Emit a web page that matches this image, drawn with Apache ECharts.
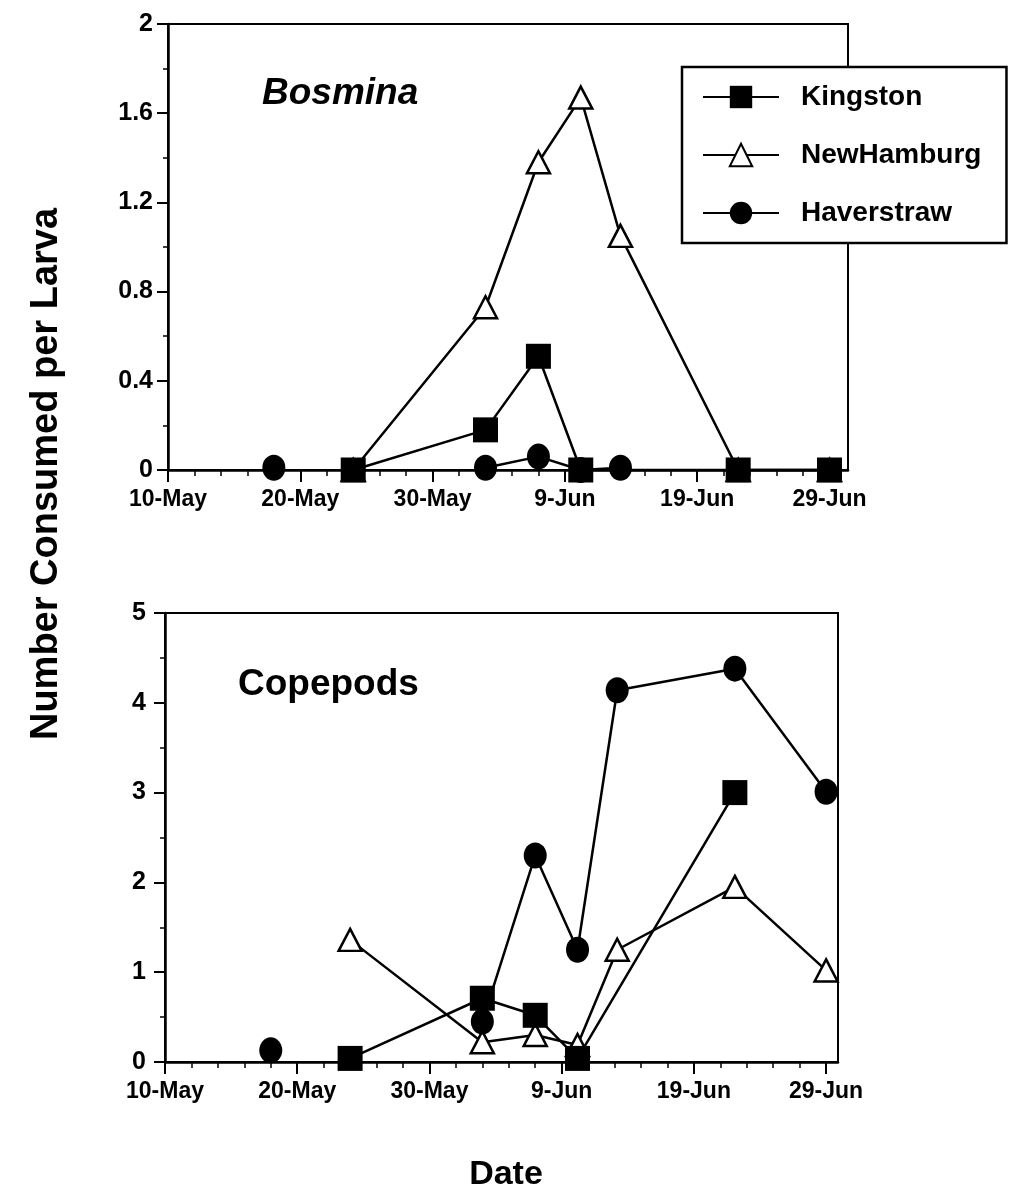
<!DOCTYPE html>
<html>
<head>
<meta charset="utf-8">
<script src="https://cdn.jsdelivr.net/npm/echarts@6/dist/echarts.min.js"></script>
<style>
html,body{margin:0;padding:0;background:#fff;}
#chart{width:1011px;height:1190px;}
</style>
</head>
<body>
<div id="chart"></div>
<script>
// Sampling dates as day offsets from 10-May
const sampleDays = [8, 14, 24, 28, 31.2, 34.2, 43.1, 50]; // 18-May,24-May,3-Jun,7-Jun,10-Jun,13-Jun,22-Jun,29-Jun
const xTickDays = [0, 10, 20, 30, 40, 50];
const xTickLabels = ['10-May', '20-May', '30-May', '9-Jun', '19-Jun', '29-Jun'];

// Bosmina panel
const bosKingston   = [null, 0, 0.18, 0.51, 0, null, 0, 0];
const bosNewHamburg = [null, 0, 0.73, 1.38, 1.67, 1.05, 0, 0];
const bosHaverstraw = [0.01, null, 0.01, 0.06, 0, 0.01, null, null];

// Copepods panel
const copKingston   = [null, 0.04, 0.71, 0.52, 0.04, null, 3.0, null];
const copNewHamburg = [null, 1.36, 0.22, 0.30, 0.19, 1.25, 1.95, 1.02];
const copHaverstraw = [0.13, null, 0.45, 2.30, 1.25, 4.14, 4.38, 3.01];

const FONT = '"Liberation Sans", Arial, Helvetica, sans-serif';

function pairs(vals) {
  return sampleDays.map((d, i) => [d, vals[i]]);
}

function xAxisFor(gridIndex, max) {
  return {
    type: 'value', gridIndex, min: 0, max,
    axisLine: { lineStyle: { color: '#000', width: 2.5 } },
    axisTick: { show: true, length: 12, lineStyle: { color: '#000', width: 2 }, customValues: xTickDays },
    minorTick: { show: true, splitNumber: 5, length: 6, lineStyle: { color: '#000', width: 1.5 } },
    splitLine: { show: false },
    axisLabel: {
      customValues: xTickDays,
      color: '#000', fontFamily: FONT, fontWeight: 'bold', fontSize: 23, margin: 18,
      formatter: v => { const i = xTickDays.indexOf(Math.round(v)); return i >= 0 ? xTickLabels[i] : ''; }
    }
  };
}

function yAxisFor(gridIndex, max, interval, margin) {
  return {
    type: 'value', gridIndex, min: 0, max, interval,
    axisLine: { show: true, lineStyle: { color: '#000', width: 2.5 } },
    axisTick: { show: true, length: 11, lineStyle: { color: '#000', width: 2 } },
    minorTick: { show: true, splitNumber: 2, length: 5, lineStyle: { color: '#000', width: 1.5 } },
    splitLine: { show: false },
    axisLabel: { color: '#000', fontFamily: FONT, fontWeight: 'bold', fontSize: 25, margin }
  };
}

const styles = {
  Kingston:   { symbol: 'rect', symbolSize: 25, connectNulls: true, itemStyle: { color: '#000', borderColor: '#000', borderWidth: 0 } },
  NewHamburg: { symbol: 'triangle', symbolSize: [23, 22], connectNulls: true, itemStyle: { color: '#fff', borderColor: '#000', borderWidth: 2.5 } },
  Haverstraw: { symbol: 'circle', symbolSize: [23, 26], connectNulls: false, itemStyle: { color: '#000', borderColor: '#000', borderWidth: 0 } }
};

function seriesFor(name, vals, idx) {
  const s = styles[name];
  return {
    name, type: 'line', xAxisIndex: idx, yAxisIndex: idx,
    data: pairs(vals),
    symbol: s.symbol, symbolSize: s.symbolSize, showAllSymbol: true,
    connectNulls: s.connectNulls, clip: false,
    lineStyle: { color: '#000', width: 2.5 },
    itemStyle: s.itemStyle,
    emphasis: { disabled: true }
  };
}

const chart = echarts.init(document.getElementById('chart'), null, { renderer: 'canvas' });
chart.setOption({
  animation: false,
  backgroundColor: '#fff',
  grid: [
    { left: 168, top: 24, width: 680, height: 446, show: true, borderColor: '#000', borderWidth: 2, backgroundColor: 'transparent' },
    { left: 165, top: 613, width: 673, height: 449, show: true, borderColor: '#000', borderWidth: 2, backgroundColor: 'transparent' }
  ],
  xAxis: [xAxisFor(0, 51.4), xAxisFor(1, 50.9)],
  yAxis: [yAxisFor(0, 2, 0.4, 15), yAxisFor(1, 5, 1, 19)],
  legend: {
    data: ['Kingston', 'NewHamburg', 'Haverstraw'],
    orient: 'vertical', left: 682, top: 67,
    itemWidth: 76, itemHeight: 28, itemGap: 30,
    padding: [16, 25, 16, 20],
    borderColor: '#000', borderWidth: 2.5, backgroundColor: '#fff',
    selectedMode: false,
    textStyle: { color: '#000', fontFamily: FONT, fontWeight: 'bold', fontSize: 28, padding: [0, 0, 0, 17] }
  },
  title: [
    { text: 'Bosmina', left: 262, top: 75, padding: 0, textStyle: { color: '#000', fontFamily: FONT, fontWeight: 'bold', fontStyle: 'italic', fontSize: 37 } },
    { text: 'Copepods', left: 238, top: 666, padding: 0, textStyle: { color: '#000', fontFamily: FONT, fontWeight: 'bold', fontSize: 37 } }
  ],
  graphic: [
    { type: 'text', x: 47, y: 474, rotation: Math.PI / 2, style: { text: 'Number Consumed per Larva', fill: '#000', font: 'bold 38px ' + FONT, textAlign: 'center', textVerticalAlign: 'middle' } },
    { type: 'text', x: 506, y: 1175, style: { text: 'Date', fill: '#000', font: 'bold 34px ' + FONT, textAlign: 'center', textVerticalAlign: 'middle' } }
  ],
  series: [
    seriesFor('NewHamburg', bosNewHamburg, 0),
    seriesFor('Haverstraw', bosHaverstraw, 0),
    seriesFor('Kingston', bosKingston, 0),
    seriesFor('NewHamburg', copNewHamburg, 1),
    seriesFor('Haverstraw', copHaverstraw, 1),
    seriesFor('Kingston', copKingston, 1)
  ]
});
</script>
</body>
</html>
